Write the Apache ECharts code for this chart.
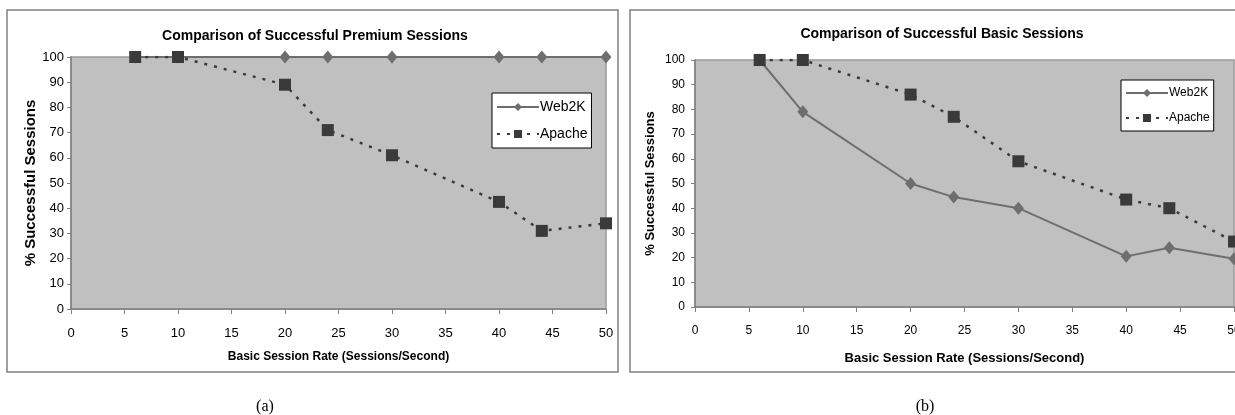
<!DOCTYPE html>
<html>
<head>
<meta charset="utf-8">
<script src="https://cdn.jsdelivr.net/npm/echarts@6/dist/echarts.min.js"></script>
<style>
  html, body { margin: 0; padding: 0; background: #fff; }
  #chart { width: 1235px; height: 415px; }
</style>
</head>
<body>
<div id="chart"></div>
<script>
// 数据
const rates = [6, 10, 20, 24, 30, 40, 44, 50];
const premiumWeb2K = [100, 100, 100, 100, 100, 100, 100, 100];
const premiumApache = [100, 100, 89, 71, 61, 42.5, 31, 34];
const basicWeb2K = [100, 79, 50, 44.5, 40, 20.5, 24, 19.5];
const basicApache = [100, 100, 86, 77, 59, 43.5, 40, 26.5];
const xTicks = { min: 0, max: 50, interval: 5 };
const yTicks = { min: 0, max: 100, interval: 10 };

const sans = '"Liberation Sans", Arial, sans-serif';
const web2kColor = '#6e6e6e';
const apacheColor = '#3a3a3a';

function pairs(xs, ys) {
    return xs.map((x, i) => [x, ys[i]]);
}

// 坐标轴
function xAxisOf(gridIndex, nameSize, labelSize, margin, nameGap) {
    return {
        type: 'value', gridIndex: gridIndex,
        min: xTicks.min, max: xTicks.max, interval: xTicks.interval,
        name: 'Basic Session Rate (Sessions/Second)',
        nameLocation: 'middle', nameGap: nameGap,
        nameTextStyle: { fontFamily: sans, fontWeight: 'bold', fontSize: nameSize, color: '#000' },
        axisLine: { lineStyle: { color: '#808080', width: 1.5 } },
        axisTick: { show: true, length: 5, lineStyle: { color: '#808080' } },
        axisLabel: { fontFamily: sans, fontSize: labelSize, color: '#000', margin: margin },
        splitLine: { show: false }
    };
}
function yAxisOf(gridIndex, nameSize, labelSize, nameGap, margin) {
    return {
        type: 'value', gridIndex: gridIndex,
        min: yTicks.min, max: yTicks.max, interval: yTicks.interval,
        name: '% Successful Sessions',
        nameLocation: 'middle', nameGap: nameGap, nameRotate: 90,
        nameTextStyle: { fontFamily: sans, fontWeight: 'bold', fontSize: nameSize, color: '#000' },
        axisLine: { show: true, lineStyle: { color: '#808080', width: 1.5 } },
        axisTick: { show: true, length: 4, lineStyle: { color: '#808080' } },
        axisLabel: { fontFamily: sans, fontSize: labelSize, color: '#000', margin: margin },
        splitLine: { show: false }
    };
}

// 折线
function web2kSeries(idx, data) {
    return {
        name: 'Web2K', type: 'line', xAxisIndex: idx, yAxisIndex: idx,
        data: pairs(rates, data),
        symbol: 'diamond', symbolSize: [11, 13],
        itemStyle: { color: web2kColor },
        lineStyle: { color: web2kColor, width: 2 },
        z: 2
    };
}
function apacheSeries(idx, data) {
    return {
        name: 'Apache', type: 'line', xAxisIndex: idx, yAxisIndex: idx,
        data: pairs(rates, data),
        symbol: 'rect', symbolSize: 12,
        itemStyle: { color: apacheColor },
        lineStyle: { color: apacheColor, width: 2.5, type: [3, 7] },
        z: 3
    };
}

function legendOf(left, top, size) {
    return {
        orient: 'vertical', left: left, top: top,
        data: ['Web2K', 'Apache'],
        itemWidth: 42, itemHeight: 10, itemGap: 13,
        padding: [7, 4, 7, 4],
        backgroundColor: '#fff', borderColor: '#000', borderWidth: 1,
        borderRadius: 0,
        textStyle: { fontFamily: sans, fontSize: size, color: '#000', padding: [0, 0, 0, -4] },
        selectedMode: false
    };
}

const chart = echarts.init(document.getElementById('chart'));

const option = {
    animation: false,
    backgroundColor: '#fff',
    title: [
        { text: 'Comparison of Successful Premium Sessions', left: 310, top: 24, textAlign: 'center',
          textStyle: { fontFamily: sans, fontWeight: 'bold', fontSize: 14, color: '#000' } },
        { text: 'Comparison of Successful Basic Sessions', left: 937, top: 22, textAlign: 'center',
          textStyle: { fontFamily: sans, fontWeight: 'bold', fontSize: 14, color: '#000' } }
    ],
    grid: [
        { left: 71, top: 57, width: 535, height: 252, show: true, outerBoundsMode: 'none',
          backgroundColor: '#c0c0c0', borderColor: '#9a9a9a', borderWidth: 1.5 },
        { left: 695, top: 60, width: 539, height: 247, show: true, outerBoundsMode: 'none',
          backgroundColor: '#c0c0c0', borderColor: '#9a9a9a', borderWidth: 1.5 }
    ],
    xAxis: [xAxisOf(0, 12, 13, 18, 42), xAxisOf(1, 13, 12, 18, 45)],
    yAxis: [yAxisOf(0, 15, 13, 31, 7), yAxisOf(1, 13, 12, 38, 10)],
    legend: [legendOf(492, 93, 14), legendOf(1121, 80, 12)],
    series: [
        web2kSeries(0, premiumWeb2K),
        apacheSeries(0, premiumApache),
        web2kSeries(1, basicWeb2K),
        apacheSeries(1, basicApache)
    ],
    graphic: [
        { type: 'rect', shape: { x: 7, y: 10, width: 611, height: 362 },
          style: { fill: null, stroke: '#808080', lineWidth: 1.5 }, z: -1 },
        { type: 'rect', shape: { x: 630, y: 10, width: 620, height: 362 },
          style: { fill: null, stroke: '#808080', lineWidth: 1.5 }, z: -1 },
        { type: 'text', x: 265, y: 407, style: { text: '(a)', font: '16px "Liberation Serif", serif',
          fill: '#000', textAlign: 'center', textVerticalAlign: 'middle' } },
        { type: 'text', x: 925, y: 407, style: { text: '(b)', font: '16px "Liberation Serif", serif',
          fill: '#000', textAlign: 'center', textVerticalAlign: 'middle' } }
    ]
};

chart.setOption(option);
</script>
</body>
</html>
